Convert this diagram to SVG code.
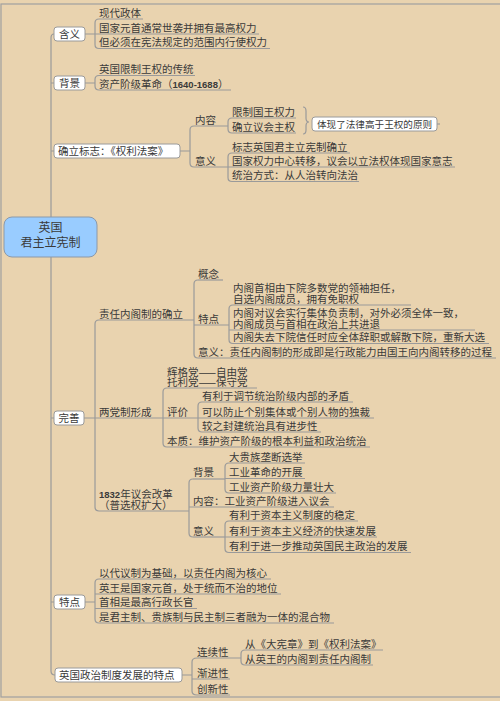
<svg xmlns="http://www.w3.org/2000/svg" width="500" height="701" viewBox="0 0 500 701">
<style>
.t{font-family:"Noto Sans CJK SC","Noto Sans",sans-serif;font-size:10.5px;fill:#3a3a3a}
.m{text-anchor:middle}
.u{stroke:#9a9a9a;stroke-width:1.2;fill:none}
.c{stroke:#9a9a9a;stroke-width:1.2;fill:none}
.b{fill:#fff;stroke:#9a9a9a;stroke-width:1}
.n{font-family:"Liberation Sans",Arial,sans-serif;font-weight:bold;font-size:9.5px}
</style>
<rect x="0" y="0" width="500" height="701" fill="#E9D3AF"/>
<rect x="1" y="4" width="520" height="693" fill="none" stroke="#a0a0a0" stroke-width="1.2"/>

<g id="connectors" class="c">
  <path d="M54,34 Q51,34 51,38 V671 Q51,675 55,675"/>
  <path d="M51,83 H54 M51,151 H54 M51,418 H54 M51,602 H54"/>
  <path d="M85,34 H95 M99,19 Q95,19 95,23 V44.5 Q95,48.5 99,48.5"/>
  <path d="M85,83 H95 M99,75.5 Q95,75.5 95,79.5 V86 Q95,90 99,90"/>
  <path d="M180,151 H190 M194,126 Q190,126 190,130 V163 Q190,167 194,167"/>
  <path d="M232,118 Q228,118 228,122 V129 Q228,133 232,133"/>
  <path d="M232,153 Q228,153 228,157 V177.5 Q228,181.5 232,181.5"/>
  <path d="M303,107 Q306,107 306,111 V118 Q306,122 309,122 Q306,122 306,126 V130 Q306,134 303,134"/>
  <path d="M437,124 H440"/>
  <path d="M84,418 H95 M99,320 Q95,320 95,324 V507 Q95,511 99,511"/>
  <path d="M198,280 Q194,280 194,284 V354 Q194,358 198,358"/>
  <path d="M233,305 Q229,305 229,309 V339.5 Q229,343.5 233,343.5"/>
  <path d="M167,388 Q163,388 163,392 V443 Q163,447 167,447"/>
  <path d="M202,402 Q198,402 198,406 V428 Q198,432 202,432"/>
  <path d="M193,479 Q189,479 189,483 V533 Q189,537 193,537"/>
  <path d="M229,463 Q225,463 225,467 V489 Q225,493 229,493"/>
  <path d="M229,521 Q225,521 225,525 V548.5 Q225,552.5 229,552.5"/>
  <path d="M85,602 H95 M99,579 Q95,579 95,583 V619 Q95,623 99,623"/>
  <path d="M182,675 H192 M197,658 Q192,658 192,662 V691 Q192,695 197,695"/>
  <path d="M245,650 Q241,650 241,654 V661 Q241,665 245,665"/>
</g>

<g id="root">
  <rect x="4" y="217" width="93" height="40" rx="8" fill="#99CCFF" stroke="#8c99a8" stroke-width="1"/>
  <text class="t m" x="50.5" y="232" style="font-size:12px">英国</text>
  <text class="t m" x="50.5" y="246.5" style="font-size:12px">君主立宪制</text>
</g>

<g id="hanyi"><rect class="b" x="54" y="27" width="31" height="14" rx="3"/><text class="t m" x="69.5" y="38">含义</text></g>
<g id="hanyi-1"><text class="t" x="99" y="16.5">现代政体</text><path class="u" d="M99,19 H143"/></g>
<g id="hanyi-2"><text class="t" x="99" y="31.5">国家元首通常世袭并拥有最高权力</text><path class="u" d="M95,34 H259"/></g>
<g id="hanyi-3"><text class="t" x="99" y="46">但必须在宪法规定的范围内行使权力</text><path class="u" d="M99,48.5 H270"/></g>

<g id="beijing"><rect class="b" x="54" y="76" width="31" height="14" rx="3"/><text class="t m" x="69.5" y="87">背景</text></g>
<g id="beijing-1"><text class="t" x="99" y="73">英国限制王权的传统</text><path class="u" d="M99,75.5 H195"/></g>
<g id="beijing-2"><text class="t" x="99" y="87.5">资产阶级革命（<tspan class="n">1640-1688</tspan>）</text><path class="u" d="M99,90 H231"/></g>

<g id="queli"><rect class="b" x="54" y="144" width="126" height="14" rx="3"/><text class="t" x="58" y="155">确立标志：《权利法案》</text></g>
<g id="queli-neirong"><text class="t" x="195" y="123.5">内容</text><path class="u" d="M194,126 H228"/></g>
<g id="queli-neirong-1"><text class="t" x="232" y="115.5">限制国王权力</text><path class="u" d="M232,118 H296"/></g>
<g id="queli-neirong-2"><text class="t" x="232" y="130.5">确立议会主权</text><path class="u" d="M232,133 H296"/></g>
<g id="queli-summary"><rect class="b" x="312" y="117" width="125" height="14" rx="3"/><text class="t" x="317" y="127.8" style="font-size:9.6px">体现了法律高于王权的原则</text></g>
<g id="queli-yiyi"><text class="t" x="195" y="164.5">意义</text><path class="u" d="M194,167 H228"/></g>
<g id="queli-yiyi-1"><text class="t" x="232" y="150.5">标志英国君主立宪制确立</text><path class="u" d="M232,153 H350"/></g>
<g id="queli-yiyi-2"><text class="t" x="232" y="164.5">国家权力中心转移，议会以立法权体现国家意志</text><path class="u" d="M228,167 H455"/></g>
<g id="queli-yiyi-3"><text class="t" x="232" y="179">统治方式：从人治转向法治</text><path class="u" d="M232,181.5 H359"/></g>

<g id="wanshan"><rect class="b" x="54" y="411" width="30" height="14" rx="3"/><text class="t m" x="69" y="422">完善</text></g>
<g id="zeren"><text class="t" x="99" y="317.5">责任内阁制的确立</text><path class="u" d="M99,320 H194"/></g>
<g id="zeren-gainian"><text class="t" x="198" y="277.5">概念</text><path class="u" d="M198,280 H223"/></g>
<g id="zeren-tedian"><text class="t" x="198" y="322.5">特点</text><path class="u" d="M194,325 H229"/></g>
<g id="zeren-tedian-1"><text class="t" x="233" y="291.5">内阁首相由下院多数党的领袖担任，<tspan x="233" dy="11">自选内阁成员，拥有免职权</tspan></text><path class="u" d="M233,305 H411"/></g>
<g id="zeren-tedian-2"><text class="t" x="233" y="316.5">内阁对议会实行集体负责制，对外必须全体一致，<tspan x="233" dy="11">内阁成员与首相在政治上共进退</tspan></text><path class="u" d="M229,330 H475"/></g>
<g id="zeren-tedian-3"><text class="t" x="233" y="341">内阁失去下院信任时应全体辞职或解散下院，重新大选</text><path class="u" d="M233,343.5 H489"/></g>
<g id="zeren-yiyi"><text class="t" x="198" y="355.5">意义：责任内阁制的形成即是行政能力由国王向内阁转移的过程</text><path class="u" d="M198,358 H496"/></g>

<g id="liangdang"><text class="t" x="99" y="415.5">两党制形成</text><path class="u" d="M95,418 H163"/></g>
<g id="liangdang-1"><text class="t" x="167" y="375.5">辉格党——自由党<tspan x="167" dy="10.5">托利党——保守党</tspan></text><path class="u" d="M167,388 H257"/></g>
<g id="liangdang-pingjia"><text class="t" x="167" y="415.5">评价</text><path class="u" d="M163,418 H198"/></g>
<g id="pingjia-1"><text class="t" x="202" y="399.5">有利于调节统治阶级内部的矛盾</text><path class="u" d="M202,402 H353"/></g>
<g id="pingjia-2"><text class="t" x="202" y="415.5">可以防止个别集体或个别人物的独裁</text><path class="u" d="M198,418 H374"/></g>
<g id="pingjia-3"><text class="t" x="202" y="429.5">较之封建统治具有进步性</text><path class="u" d="M202,432 H321"/></g>
<g id="liangdang-benzhi"><text class="t" x="167" y="444.5">本质：维护资产阶级的根本利益和政治统治</text><path class="u" d="M167,447 H370"/></g>

<g id="gaige"><text class="t" x="99" y="497.5"><tspan class="n">1832</tspan>年议会改革<tspan x="99" dy="11">（普选权扩大）</tspan></text><path class="u" d="M99,511 H189"/></g>
<g id="gaige-beijing"><text class="t" x="193" y="476">背景</text><path class="u" d="M193,479 H225"/></g>
<g id="gaige-beijing-1"><text class="t" x="229" y="460.5">大贵族垄断选举</text><path class="u" d="M229,463 H305"/></g>
<g id="gaige-beijing-2"><text class="t" x="229" y="476">工业革命的开展</text><path class="u" d="M225,478.5 H305"/></g>
<g id="gaige-beijing-3"><text class="t" x="229" y="490.5">工业资产阶级力量壮大</text><path class="u" d="M229,493 H336"/></g>
<g id="gaige-neirong"><text class="t" x="193" y="504.5">内容：工业资产阶级进入议会</text><path class="u" d="M189,507 H334"/></g>
<g id="gaige-yiyi"><text class="t" x="193" y="534.5">意义</text><path class="u" d="M193,537 H225"/></g>
<g id="gaige-yiyi-1"><text class="t" x="229" y="518.5">有利于资本主义制度的稳定</text><path class="u" d="M229,521 H358"/></g>
<g id="gaige-yiyi-2"><text class="t" x="229" y="534.5">有利于资本主义经济的快速发展</text><path class="u" d="M225,537 H377"/></g>
<g id="gaige-yiyi-3"><text class="t" x="229" y="550">有利于进一步推动英国民主政治的发展</text><path class="u" d="M229,552.5 H411"/></g>

<g id="tedian"><rect class="b" x="54" y="595" width="31" height="14" rx="3"/><text class="t m" x="69.5" y="606">特点</text></g>
<g id="tedian-1"><text class="t" x="99" y="576.5">以代议制为基础，以责任内阁为核心</text><path class="u" d="M99,579 H271"/></g>
<g id="tedian-2"><text class="t" x="99" y="591.5">英王是国家元首，处于统而不治的地位</text><path class="u" d="M95,594 H281"/></g>
<g id="tedian-3"><text class="t" x="99" y="606">首相是最高行政长官</text><path class="u" d="M95,608.5 H197"/></g>
<g id="tedian-4"><text class="t" x="99" y="620.5">是君主制、贵族制与民主制三者融为一体的混合物</text><path class="u" d="M99,623 H334"/></g>

<g id="fazhan"><rect class="b" x="55" y="668" width="127" height="14" rx="3"/><text class="t" x="59" y="679">英国政治制度发展的特点</text></g>
<g id="fazhan-lianxu"><text class="t" x="197" y="655.5">连续性</text><path class="u" d="M197,658 H241"/></g>
<g id="lianxu-1"><text class="t" x="245" y="647.5">从《大宪章》到《权利法案》</text><path class="u" d="M245,650 H383"/></g>
<g id="lianxu-2"><text class="t" x="245" y="662.5">从英王的内阁到责任内阁制</text><path class="u" d="M245,665 H373"/></g>
<g id="fazhan-jianjin"><text class="t" x="197" y="676.5">渐进性</text><path class="u" d="M192,679 H230"/></g>
<g id="fazhan-chuangxin"><text class="t" x="197" y="692.5">创新性</text><path class="u" d="M197,695 H230"/></g>
</svg>
